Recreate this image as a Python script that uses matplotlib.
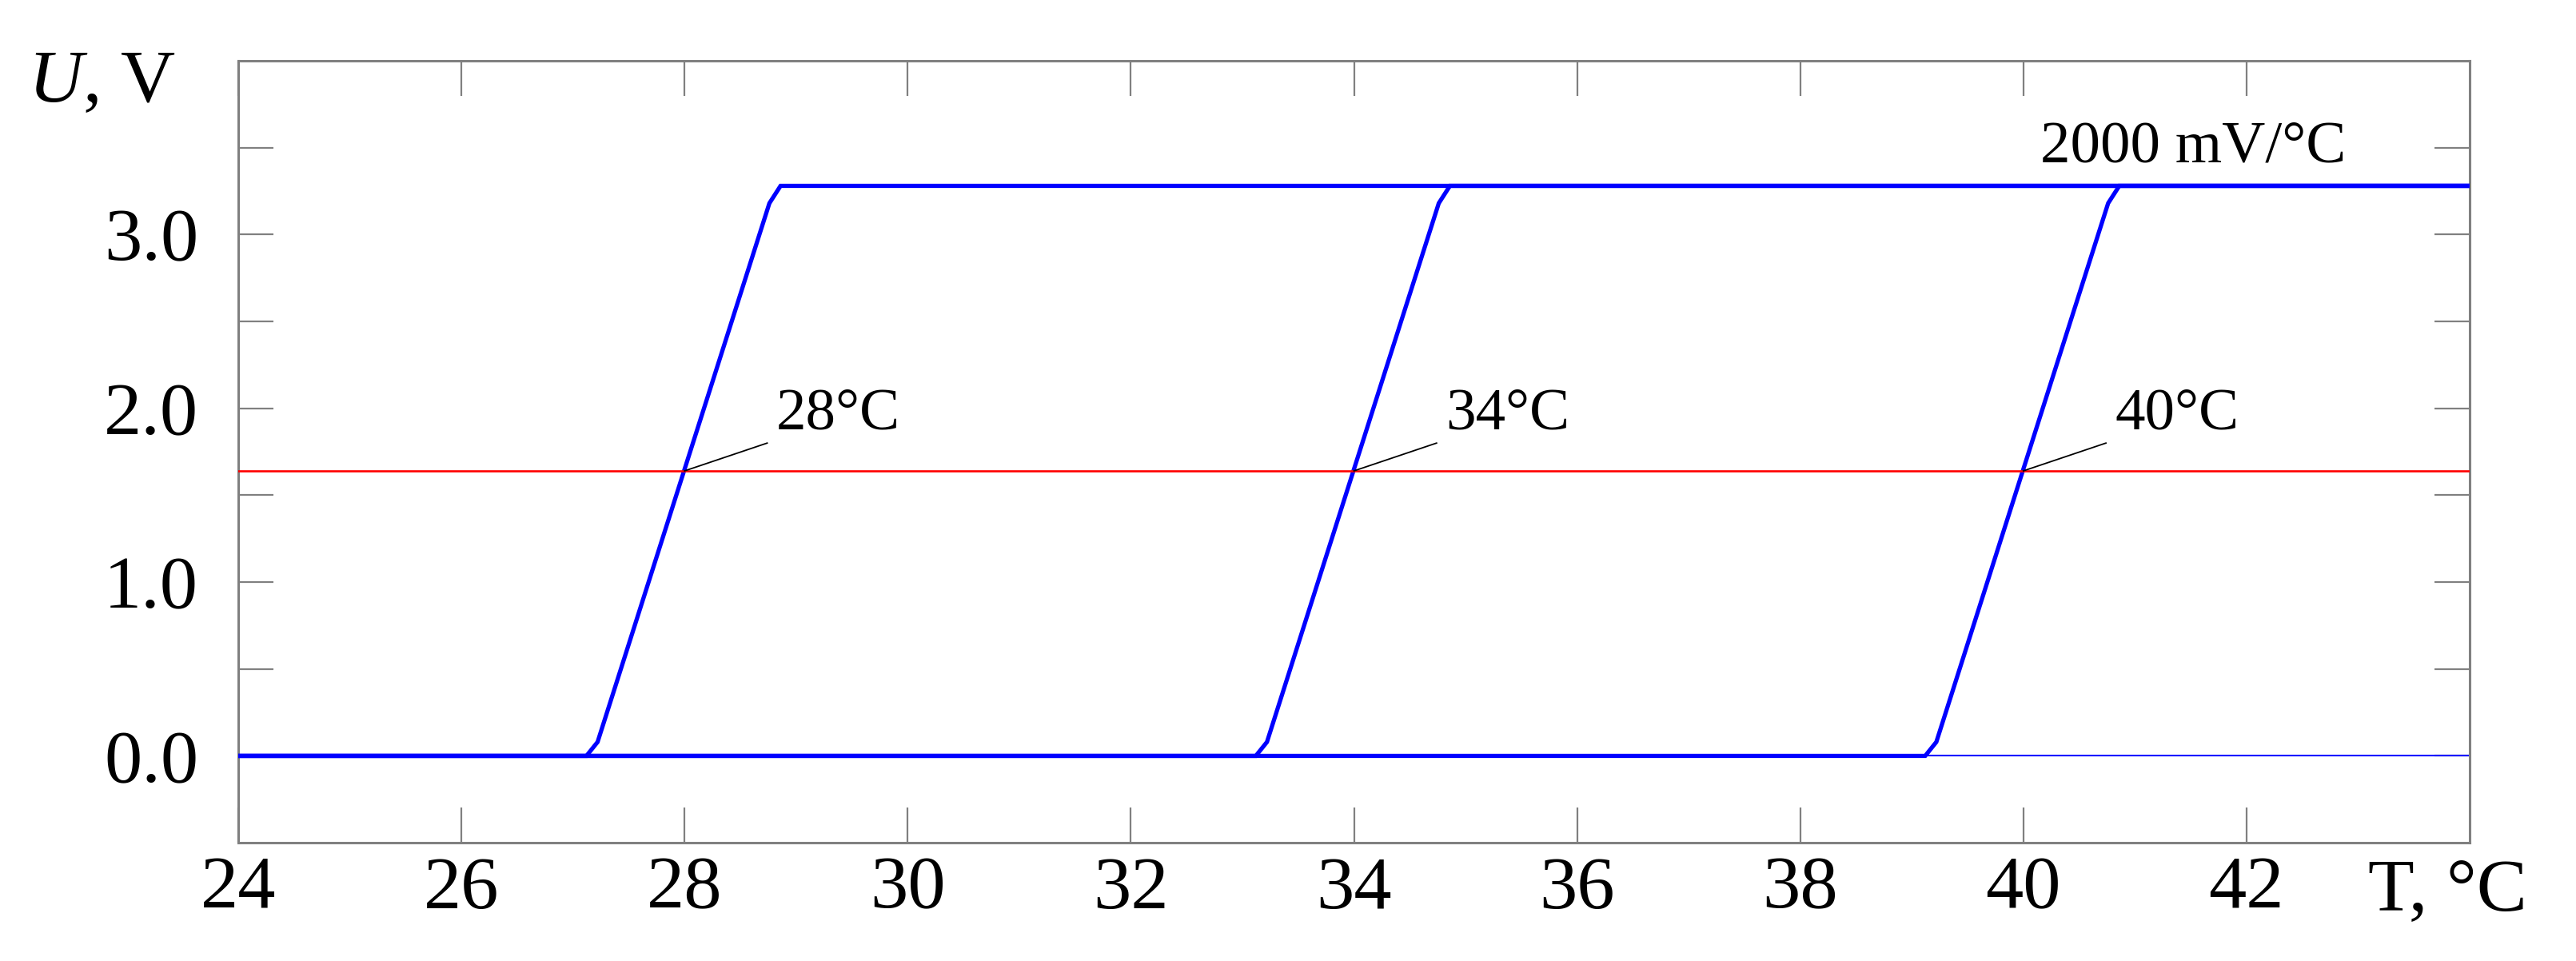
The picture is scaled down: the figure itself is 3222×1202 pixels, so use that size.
import numpy as np
import matplotlib
matplotlib.use("Agg")
import matplotlib.pyplot as plt
from matplotlib.ticker import FixedLocator

plt.rcParams["font.family"] = ["Liberation Serif", "DejaVu Serif"]
plt.rcParams["mathtext.fontset"] = "custom"
plt.rcParams["mathtext.rm"] = "Liberation Serif"
plt.rcParams["mathtext.it"] = "Liberation Serif:italic"

# --- data ---
# three switching curves (2000 mV/°C), thresholds 28, 34, 40 °C
T_28 = [24.0, 27.12, 27.22, 28.76, 28.86, 44.0]
U_28 = [0.0, 0.0, 0.08, 3.18, 3.28, 3.28]
T_34 = [24.0, 33.12, 33.22, 34.76, 34.86, 44.0]
U_34 = [0.0, 0.0, 0.08, 3.18, 3.28, 3.28]
T_40 = [24.0, 39.12, 39.22, 40.76, 40.86, 44.0]
U_40 = [0.0, 0.0, 0.08, 3.18, 3.28, 3.28]

baseline_T = [24.0, 44.0]
baseline_U = [0.0, 0.0]

U_ref = 1.64              # red reference level
thresholds = [28.0, 34.0, 40.0]
threshold_labels = ["28°C", "34°C", "40°C"]
slope_label = "2000 mV/°C"

x_ticks = [24, 26, 28, 30, 32, 34, 36, 38, 40, 42]
y_major = [0.0, 1.0, 2.0, 3.0]
y_minor = [0.5, 1.5, 2.5, 3.5]

fig = plt.figure(figsize=(32.23, 12.02), dpi=100)
ax = fig.add_axes([0.0925, 0.123, 0.8659, 0.8138])

blue = "#0000ff"
ax.plot(baseline_T, baseline_U, color=blue, lw=1.5, zorder=2)
for T, U in [(T_28, U_28), (T_34, U_34), (T_40, U_40)]:
    ax.plot(T, U, color=blue, lw=3.8, solid_joinstyle="miter", zorder=3)

ax.axhline(U_ref, color="#ff0000", lw=1.9, zorder=4)

# leader lines + labels
for t0, lab in zip(thresholds, threshold_labels):
    ax.plot([t0, t0 + 0.74], [U_ref, U_ref + 0.16], color="black", lw=1.3, zorder=5)
    ax.text(t0 + 0.82, U_ref + 0.24, lab, fontsize=54, ha="left", va="baseline")

ax.text(40.15, 3.42, slope_label, fontsize=54, ha="left", va="baseline")

ax.set_xlim(24, 44)
ax.set_ylim(-0.5, 4.0)
ax.set_xticks(x_ticks)
ax.set_xticklabels([str(t) for t in x_ticks])
ax.yaxis.set_major_locator(FixedLocator(y_major))
ax.yaxis.set_minor_locator(FixedLocator(y_minor))
ax.set_yticklabels([f"{v:.1f}" for v in y_major])

grey = "#808080"
for s in ax.spines.values():
    s.set_color(grey)
    s.set_linewidth(2.2)

ax.tick_params(axis="both", which="both", direction="in", length=32, width=1.6,
               color=grey, top=True, right=True)
ax.tick_params(axis="x", labelsize=68, pad=12)
ax.tick_params(axis="y", labelsize=68, pad=36)

fig.text(0.011, 0.894, r"$\mathit{U}$, V", fontsize=68, ha="left", va="baseline")
fig.text(0.919, 0.0532, "T, °C", fontsize=68, ha="left", va="baseline")

fig.savefig("out.png", dpi=100, facecolor="white")
